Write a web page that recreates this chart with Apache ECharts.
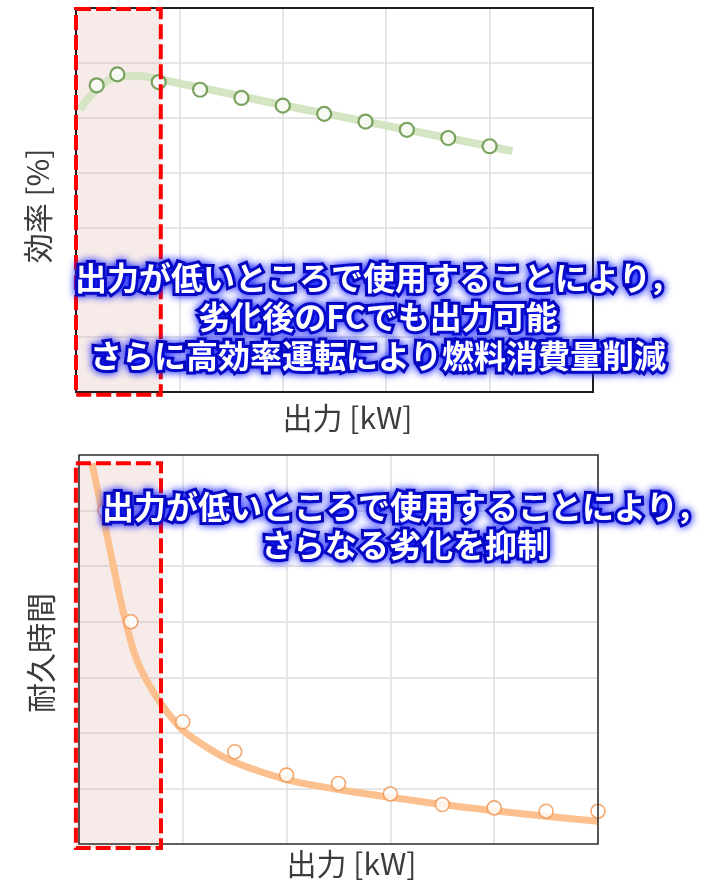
<!DOCTYPE html>
<html><head><meta charset="utf-8">
<script src="https://cdn.jsdelivr.net/npm/echarts@6/dist/echarts.min.js"></script>
<style>html,body{margin:0;padding:0;background:#fff}#c{width:717px;height:886px}</style>
</head><body><div id="c"></div>
<script>
// ---- data (x in grid units of 出力, y in grid units) ----
const xTicks = [0, 1, 2, 3, 4, 5];
const yTicks = [0, 1, 2, 3, 4, 5, 6, 7];

const effX = [0.2, 0.4, 0.8, 1.2, 1.6, 2.0, 2.4, 2.8, 3.2, 3.6, 4.0];
const effY = [5.59, 5.79, 5.65, 5.51, 5.36, 5.22, 5.07, 4.93, 4.78, 4.63, 4.48];
const effFitX = [0.04, 0.2, 0.4, 0.6, 0.8, 1.2, 1.6, 2.0, 2.4, 2.8, 3.2, 3.6, 4.0, 4.22];
const effFitY = [5.15, 5.52, 5.74, 5.76, 5.70, 5.55, 5.39, 5.23, 5.08, 4.93, 4.78, 4.63, 4.48, 4.39];

const lifeX = [0.25, 0.5, 1.0, 1.5, 2.0, 2.5, 3.0, 3.5, 4.0, 4.5, 5.0];
const lifeY = [6.0, 4.0, 2.2, 1.66, 1.24, 1.09, 0.9, 0.71, 0.65, 0.59, 0.59];
const lifeFitX = [0.125, 0.22, 0.32, 0.43, 0.54, 0.65, 0.8, 1.0, 1.25, 1.5, 2.0, 2.5, 3.0, 3.5, 4.0, 4.5, 5.0];
const lifeFitY = [6.85, 6.0, 5.1, 4.15, 3.4, 2.95, 2.5, 2.05, 1.72, 1.47, 1.16, 0.98, 0.84, 0.71, 0.60, 0.50, 0.41];

// highlighted low-output region [xmin, xmax, ymin, ymax]
const regionTop = [0, 0.82, -0.05, 6.98];
const regionBottom = [-0.03, 0.79, -0.07, 6.85];

const xName = '出力 [kW]';
const yNameTop = '効率 [%]';
const yNameBottom = '耐久時間';
const noteTop = '出力が低いところで使用することにより，\n劣化後のFCでも出力可能\nさらに高効率運転により燃料消費量削減';
const noteBottom = '出力が低いところで使用することにより，\nさらなる劣化を抑制';

const pair = (xs, ys) => xs.map((x, i) => [x, ys[i]]);
const FONT = '"Noto Sans CJK JP", "Noto Sans CJK SC", sans-serif';

const chart = echarts.init(document.getElementById('c'));

function xAxis(gi, gap) {
  return {
    type: 'value', gridIndex: gi, min: xTicks[0], max: xTicks[xTicks.length - 1], interval: 1,
    axisLine: {show: false}, axisTick: {show: false}, axisLabel: {show: false},
    splitLine: {show: true, lineStyle: {color: '#dedede', width: 1.5}},
    name: xName, nameLocation: 'middle', nameGap: gap,
    nameTextStyle: {fontFamily: FONT, fontSize: 30, color: '#3c3c3c', padding: [0, 0, 0, 26]}
  };
}
function yAxis(gi, name, pad) {
  return {
    type: 'value', gridIndex: gi, min: yTicks[0], max: yTicks[yTicks.length - 1], interval: 1,
    axisLine: {show: false}, axisTick: {show: false}, axisLabel: {show: false},
    splitLine: {show: true, lineStyle: {color: '#dedede', width: 1.5}},
    name: name, nameLocation: 'middle', nameRotate: 90, nameGap: 23,
    nameTextStyle: {fontFamily: FONT, fontSize: 30, color: '#3c3c3c', padding: [0, pad, 0, 0]}
  };
}

const option = {
  animation: false,
  backgroundColor: '#fff',
  grid: [
    {left: 76, top: 8, width: 517, height: 384},
    {left: 79, top: 455, width: 519, height: 389}
  ],
  xAxis: [xAxis(0, 11), xAxis(1, 5)],
  yAxis: [yAxis(0, yNameTop, 12), yAxis(1, yNameBottom, 7)],
  series: [
    {type: 'line', xAxisIndex: 0, yAxisIndex: 0, data: pair(effFitX, effFitY), smooth: 0.4,
     showSymbol: false, symbol: 'none', lineStyle: {color: '#d5e4c2', width: 8}, z: 2, silent: true},
    {type: 'scatter', xAxisIndex: 0, yAxisIndex: 0, data: pair(effX, effY), symbol: 'circle', symbolSize: 14,
     itemStyle: {color: '#fff', borderColor: '#5b8d3a', borderWidth: 2.2}, z: 3},
    {type: 'line', xAxisIndex: 1, yAxisIndex: 1, data: pair(lifeFitX, lifeFitY), smooth: 0.3,
     showSymbol: false, symbol: 'none', lineStyle: {color: '#fbc08e', width: 7}, z: 2, silent: true},
    {type: 'scatter', xAxisIndex: 1, yAxisIndex: 1, data: pair(lifeX, lifeY), symbol: 'circle', symbolSize: 14,
     itemStyle: {color: '#fff', borderColor: '#f0914a', borderWidth: 1.6}, z: 3}
  ]
};
chart.setOption(option);

function regionRect(gi, r) {
  const p1 = chart.convertToPixel({gridIndex: gi}, [r[0], r[3]]);
  const p2 = chart.convertToPixel({gridIndex: gi}, [r[1], r[2]]);
  return {x: p1[0], y: p1[1], width: p2[0] - p1[0], height: p2[1] - p1[1]};
}
const rt = regionRect(0, regionTop);
const rb = regionRect(1, regionBottom);
const frameT = regionRect(0, [xTicks[0], xTicks[xTicks.length - 1], yTicks[0], yTicks[yTicks.length - 1]]);
const frameB = regionRect(1, [xTicks[0], xTicks[xTicks.length - 1], yTicks[0], yTicks[yTicks.length - 1]]);

const noteStyle = {
  font: 'bold 32px ' + FONT,
  fill: '#ffffff', stroke: '#0000b4', lineWidth: 6,
  textShadowColor: '#1a24ff', textShadowBlur: 9,
  align: 'center', verticalAlign: 'middle'
};

chart.setOption({
  graphic: [
    {type: 'rect', shape: rt, style: {fill: 'rgba(222,170,165,0.24)'}, z: 1, silent: true},
    {type: 'rect', shape: rb, style: {fill: 'rgba(222,170,165,0.24)'}, z: 1, silent: true},
    {type: 'rect', shape: frameT, style: {fill: 'none', stroke: '#1e1e1e', lineWidth: 2}, z: 5, silent: true},
    {type: 'rect', shape: frameB, style: {fill: 'none', stroke: '#333', lineWidth: 1.6}, z: 5, silent: true},
    {type: 'rect', shape: rt, style: {fill: 'none', stroke: '#ff0000', lineWidth: 4, lineDash: [15, 5]}, z: 10, silent: true},
    {type: 'rect', shape: rb, style: {fill: 'none', stroke: '#ff0000', lineWidth: 4, lineDash: [15, 5]}, z: 10, silent: true},
    {type: 'text', z: 20, silent: true, style: Object.assign({text: noteTop, x: 378, y: 317, lineHeight: 39}, noteStyle)},
    {type: 'text', z: 20, silent: true, style: Object.assign({text: noteBottom, x: 405, y: 526, lineHeight: 38}, noteStyle)}
  ]
});
</script>
</body></html>
